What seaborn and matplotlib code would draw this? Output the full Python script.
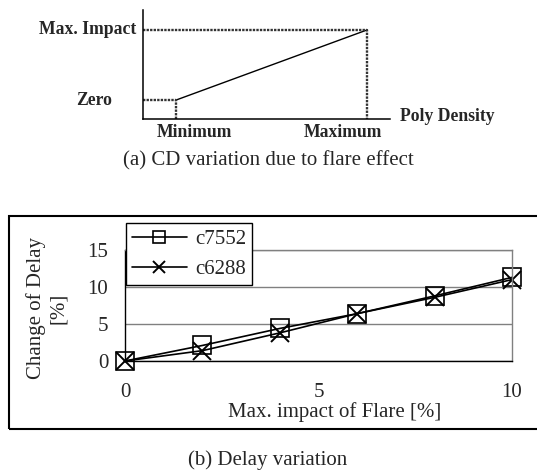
import matplotlib
matplotlib.use('Agg')
import matplotlib.pyplot as plt
import seaborn as sns
import pandas as pd
from matplotlib.patches import Rectangle

# (a) schematic: flare impact vs poly density (normalised axis units)
density_marks = [0.134, 0.907]      # Minimum, Maximum
impact_levels = [0.174, 0.817]      # Zero, Max. Impact
density_labels = ['Minimum', 'Maximum']
impact_labels = ['Zero', 'Max. Impact']

# (b) delay variation
flare = [0, 2, 4, 6, 8, 10]
c7552 = [0, 2.1, 4.4, 6.4, 8.8, 11.3]
c6288 = [0, 1.4, 3.8, 6.4, 8.6, 11.0]

sns.set_style('white')
plt.rcParams['font.family'] = ['Liberation Serif', 'DejaVu Serif']

W, H = 537, 473
FS = 15
fig = plt.figure(figsize=(W / 100, H / 100), dpi=100)

def px(x0, y0, x1, y1):
    # figure rect from pixel box
    return [x0 / W, 1 - y1 / H, (x1 - x0) / W, (y1 - y0) / H]

# ---------------- (a) ----------------
ax1 = fig.add_axes(px(143, 10, 390, 119))
ax1.set_xlim(0, 1)
ax1.set_ylim(0, 1)
sns.lineplot(x=density_marks, y=impact_levels, color='black', lw=1, ax=ax1)
dot = dict(color='0.2', ls=(0, (1, 0.5)), lw=1.7)
ax1.plot([0, density_marks[0], density_marks[0]], [impact_levels[0], impact_levels[0], 0], **dot)
ax1.plot([0, density_marks[1], density_marks[1]], [impact_levels[1], impact_levels[1], 0], **dot)
for s in ['top', 'right']:
    ax1.spines[s].set_visible(False)
for s in ['left', 'bottom']:
    ax1.spines[s].set_color('black')
    ax1.spines[s].set_linewidth(1.1)
ax1.set_xticks([])
ax1.set_yticks([])

bold = dict(fontsize=12.7, fontweight='bold', textcoords='offset points')
ax1.annotate(density_labels[0], xy=(density_marks[0], 0), xytext=(13, -10), ha='center', va='center', **bold)
ax1.annotate(density_labels[1], xy=(density_marks[1], 0), xytext=(-17, -10), ha='center', va='center', **bold)
ax1.annotate(impact_labels[0], xy=(0, impact_levels[0]), xytext=(-22, 0), ha='right', va='center', **bold)
ax1.annotate(impact_labels[1], xy=(0, impact_levels[1]), xytext=(-5, 0), ha='right', va='center', **bold)
ax1.annotate('Poly Density', xy=(1, 0), xytext=(7, 2), ha='left', va='center', **bold)

fig.text(268 / W, 1 - 161 / H, '(a) CD variation due to flare effect',
         ha='center', va='center', fontsize=FS)

# ---------------- (b) ----------------
fig.patches.append(Rectangle((9 / W, 1 - 429 / H), 1.2, 213 / H, transform=fig.transFigure,
                             fill=False, ec='black', lw=1.5, clip_on=False))

ax2 = fig.add_axes(px(125, 250, 512, 361))
df = pd.DataFrame({'flare': flare, 'c7552': c7552, 'c6288': c6288})
sns.lineplot(data=df, x='flare', y='c7552', ax=ax2, color='black', lw=1.2, marker='s',
             ms=12.5, mfc='none', mec='black', mew=1.2, clip_on=False, label='c7552')
sns.lineplot(data=df, x='flare', y='c6288', ax=ax2, color='black', lw=1.2, marker='x',
             ms=12.5, mec='black', mew=1.4, clip_on=False, label='c6288')
ax2.set_xlim(0, 10)
ax2.set_ylim(0, 15)
ax2.set_xticks([0, 5, 10])
ax2.set_yticks([0, 5, 10, 15])
ax2.grid(axis='y', color='0.5', lw=1)
ax2.set_axisbelow(True)
ax2.spines['top'].set_color('0.5')
ax2.spines['right'].set_color('0.5')
ax2.spines['left'].set_color('black')
ax2.spines['bottom'].set_color('black')
for s in ax2.spines.values():
    s.set_linewidth(1)
ax2.tick_params(axis='both', direction='out', length=5, width=1, color='black', labelsize=FS)
ax2.tick_params(axis='x', pad=11)
ax2.tick_params(axis='y', pad=7)
ax2.set_xlabel('')
ax2.set_ylabel('')

leg = ax2.legend(loc='upper left', bbox_to_anchor=(0.003, 1.243), borderaxespad=0,
                 fontsize=FS, frameon=True, fancybox=False, edgecolor='black',
                 framealpha=1, handlelength=2.6, markerscale=0.7, borderpad=0.3,
                 labelspacing=0.5, handletextpad=0.4)
leg.get_frame().set_linewidth(1)

fig.text(335 / W, 1 - 412 / H, 'Max. impact of Flare [%]', ha='center', va='center', fontsize=FS)
fig.text(47 / W, 1 - 308 / H, 'Change of Delay\n[%]', rotation=90, ha='center', va='center',
         multialignment='center', linespacing=1.25, fontsize=FS)

fig.text(268 / W, 1 - 460 / H, '(b) Delay variation', ha='center', va='center', fontsize=FS)

fig.savefig('out.png', dpi=100)
